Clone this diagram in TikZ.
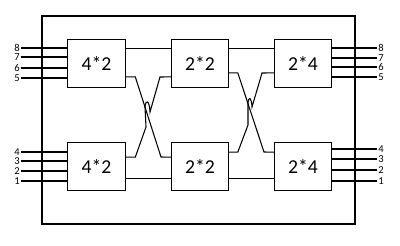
\documentclass[tikz,border=0pt]{standalone}
\usepackage{fontspec}
\setmainfont{Carlito}
\usetikzlibrary{calc}

\begin{document}
\begin{tikzpicture}[x=0.025cm, y=-0.025cm, line width=0.75pt,
    blk/.style={draw, minimum width=1.44cm, minimum height=1.22cm, inner sep=0pt, outer sep=0pt, font=\fontsize{14}{16}\selectfont},
    num/.style={inner sep=0.6pt, font=\fontsize{7.5}{8}\selectfont}]
    \useasboundingbox (0,0) rectangle (400,245);
    \draw (42,16) rectangle (355,224);
    \node[blk] (lt) at (96.5,63.5) {4*2};
    \node[blk] (lb) at (96.5,166.5) {4*2};
    \node[blk] (mt) at (200,63.5) {2*2};
    \node[blk] (mb) at (200,166.5) {2*2};
    \node[blk] (rt) at (303,63.5) {2*4};
    \node[blk] (rb) at (303,166.5) {2*4};
% inputs and outputs
    \foreach \n/\y in {8/48,7/57,6/68,5/78,4/152,3/161,2/171,1/181}{
        \node[num] (i\n) at (17,\y) {\n};
        \draw (i\n.east) -- (i\n.east -| lt.west);
    }
    \foreach \n/\y in {8/48,7/58,6/67,5/77,4/149,3/159,2/170,1/181}{
        \node[num] (o\n) at (381,\y) {\n};
        \draw (o\n.west -| rt.east) -- (o\n.west);
    }
% straight links
    \draw ($(lt.north east)+(0,9)$) -- ($(mt.north west)+(0,9)$);
    \draw ($(mt.north east)+(0,9)$) -- ($(rt.north west)+(0,9)$);
    \draw ($(lb.south east)+(0,-12)$) -- ($(mb.south west)+(0,-12)$);
    \draw ($(mb.south east)+(0,-12)$) -- ($(rb.south west)+(0,-12)$);
% crossed links
    \draw ($(lt.south east)+(0,-11)$) -- ++(10,0) -- (161,157) -- ($(mb.north west)+(0,15)$);
    \draw ($(lb.north east)+(0,15)$) -- ++(10,0) -- (146,127) -- (145,107)
        .. controls (145.5,99) and (149.5,100) .. (150,112) -- (160,77) -- ($(mt.south west)+(0,-11)$);
    \draw ($(mt.south east)+(0,-15)$) -- ++(9,0) -- (264,152) -- ($(rb.north west)+(0,10)$);
    \draw ($(mb.north east)+(0,10)$) -- ++(9,0) -- (248,125) -- (248,103)
        .. controls (248.5,96) and (251.5,97) .. (252,107) -- (262,73) -- ($(rt.south west)+(0,-15)$);
\end{tikzpicture}
\end{document}
